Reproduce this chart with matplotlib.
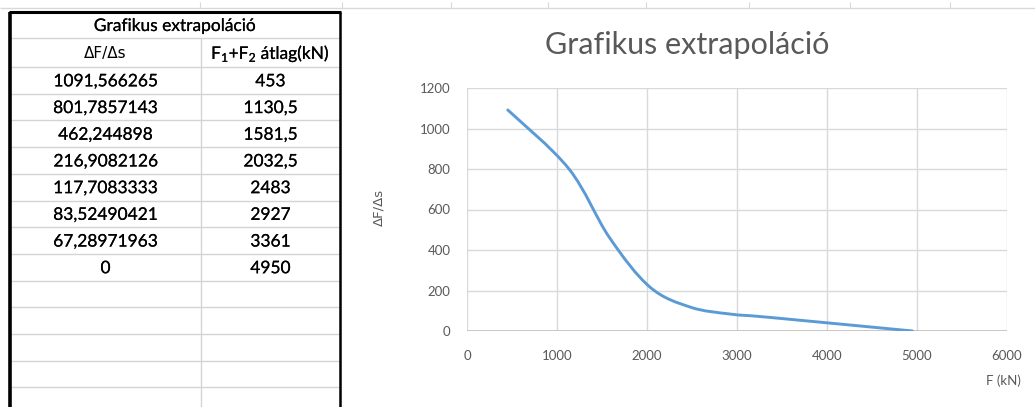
import matplotlib
matplotlib.use("Agg")
import matplotlib.pyplot as plt
from matplotlib.lines import Line2D
from matplotlib.path import Path
from matplotlib.patches import PathPatch
import matplotlib.patheffects as pe
import numpy as np

# ---- data (from the spreadsheet table) ----
table_title = "Grafikus extrapoláció"
col_headers = ["ΔF/Δs", r"F$_\mathregular{1}$+F$_\mathregular{2}$ átlag(kN)"]
slope_labels = ["1091,566265", "801,7857143", "462,244898", "216,9082126",
                "117,7083333", "83,52490421", "67,28971963", "0"]
force_labels = ["453", "1130,5", "1581,5", "2032,5", "2483", "2927", "3361", "4950"]
slope_values = [1091.566265, 801.7857143, 462.244898, 216.9082126,
                117.7083333, 83.52490421, 67.28971963, 0.0]
force_values = [453, 1130.5, 1581.5, 2032.5, 2483, 2927, 3361, 4950]

chart_title = "Grafikus extrapoláció"
x_label = "F (kN)"
y_label = "ΔF/Δs"
x_ticks = [0, 1000, 2000, 3000, 4000, 5000, 6000]
y_ticks = [0, 200, 400, 600, 800, 1000, 1200]

W, H = 1035, 407
fig = plt.figure(figsize=(W / 100, H / 100), dpi=100)
fig.patch.set_facecolor("white")
FONT = "Lato"
bolden = [pe.withStroke(linewidth=0.12, foreground="black")]


def fx(px):
    return px / W


def fy(py):
    return 1 - py / H


def hline(x0, x1, y, color, lw):
    fig.add_artist(Line2D([fx(x0), fx(x1)], [fy(y), fy(y)], color=color, lw=lw,
                          transform=fig.transFigure, solid_capstyle="butt"))


def vline(x, y0, y1, color, lw):
    fig.add_artist(Line2D([fx(x), fx(x)], [fy(y0), fy(y1)], color=color, lw=lw,
                          transform=fig.transFigure, solid_capstyle="butt"))


# ---- sheet gridline remnants at top ----
hline(0, W, 8, "#d9d9d9", 1.0)
for xt in [200, 342, 451, 548, 646, 749, 850, 950]:
    vline(xt, 2, 8, "#d9d9d9", 0.8)

# ---- table ----
tl, tr, tc = 10, 340, 201
top = 12
row_edges = [top, 38, 67]
rh = 26.7
for i in range(1, 14):
    row_edges.append(67 + i * rh)
grid_c = "#d4d4d4"
for yb in row_edges[1:]:
    if yb < H:
        hline(tl, tr, yb, grid_c, 1.0)
vline(tc, row_edges[1], H, grid_c, 1.0)

# outer thick border
hline(tl - 1.5, tr + 1, top, "black", 2.2)
vline(tl, top, H, "black", 2.6)
vline(tr, top, H, "black", 1.8)

tsize = 12.5
fig.text(fx((tl + tr) / 2), fy((row_edges[0] + row_edges[1]) / 2 + 1), table_title,
         ha="center", va="center", fontsize=tsize, family=FONT, color="black",
         path_effects=bolden)
hy = (row_edges[1] + row_edges[2]) / 2 + 1
fig.text(fx((tl + tc) / 2), fy(hy), col_headers[0], ha="center", va="center",
         fontsize=tsize - 1.5, family="DejaVu Sans", color="black")
fig.text(fx((tc + tr) / 2), fy(hy), col_headers[1], ha="center", va="center",
         fontsize=tsize, family=FONT, color="black", path_effects=bolden)
for i, (s, f) in enumerate(zip(slope_labels, force_labels)):
    yc = (row_edges[2 + i] + row_edges[3 + i]) / 2 + 1
    fig.text(fx((tl + tc) / 2), fy(yc), s, ha="center", va="center",
             fontsize=tsize, family=FONT, color="black", path_effects=bolden)
    fig.text(fx((tc + tr) / 2), fy(yc), f, ha="center", va="center",
             fontsize=tsize, family=FONT, color="black", path_effects=bolden)

# ---- chart ----
pl, pr, pt, pb = 467, 1007, 88, 331
ax = fig.add_axes([fx(pl), fy(pb), fx(pr) - fx(pl), fy(pt) - fy(pb)])
ax.set_xlim(x_ticks[0], x_ticks[-1])
ax.set_ylim(y_ticks[0], y_ticks[-1])
ax.set_xticks(x_ticks)
ax.set_yticks(y_ticks)
ax.grid(True, color="#d9d9d9", lw=1.0)
for sp in ax.spines.values():
    sp.set_visible(False)
ax.axhline(0, color="#bfbfbf", lw=1.2, zorder=2)
ax.tick_params(length=0, labelsize=9.5, labelcolor="#595959")
for lab in ax.get_xticklabels() + ax.get_yticklabels():
    lab.set_family(FONT)
ax.tick_params(axis="x", pad=14)
ax.tick_params(axis="y", pad=12)

# smoothed line (Catmull-Rom style cubic Bezier segments, as Excel's smooth line)
pts = np.column_stack([force_values, slope_values]).astype(float)
n = len(pts)
verts = [pts[0]]
codes = [Path.MOVETO]
for i in range(n - 1):
    p0 = pts[i - 1] if i > 0 else pts[i]
    p1 = pts[i]
    p2 = pts[i + 1]
    p3 = pts[i + 2] if i + 2 < n else pts[i + 1]
    c1 = p1 + (p2 - p0) / 6.0
    c2 = p2 - (p3 - p1) / 6.0
    verts += [c1, c2, p2]
    codes += [Path.CURVE4] * 3
ax.add_patch(PathPatch(Path(verts, codes), fill=False, edgecolor="#5b9bd5",
                       lw=2.1, capstyle="round", joinstyle="round", zorder=3))

fig.text(fx(687), fy(45), chart_title, ha="center", va="center", fontsize=22,
         family=FONT, color="#595959")
fig.text(fx(1003), fy(381), x_label, ha="center", va="center", fontsize=9.5,
         family=FONT, color="#595959")
fig.text(fx(379), fy(207), y_label, ha="center", va="center", fontsize=9.5,
         family="DejaVu Sans", color="#595959", rotation=90)

fig.savefig("out.png", dpi=100, facecolor="white")
